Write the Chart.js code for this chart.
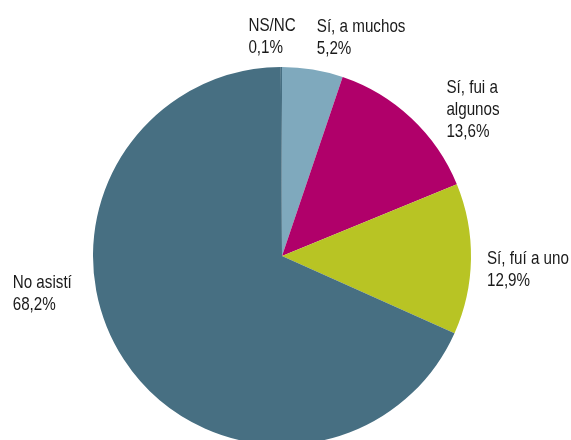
<!DOCTYPE html>
<html lang="es">
<head>
    <meta charset="UTF-8">
    <title>Asistencia</title>
    <style>
        html, body { margin: 0; padding: 0; background: #fff; overflow: hidden; }
        .CardStyle { width: 571px; height: 440px; overflow: hidden; position: relative; }
    </style>
</head>
<body>
    <div class="CardStyle">
        <canvas id="myChart" width="571" height="470"></canvas>
    </div>

    <script src="https://cdn.jsdelivr.net/npm/chart.js"></script>
    <script>
    // data
    const categorias = [['Sí, a muchos'], ['Sí, fui a', 'algunos'], ['Sí, fuí a uno'], ['No asistí'], ['NS/NC']];
    const porcentajes = [5.2, 13.6, 12.9, 68.2, 0.1];
    const colores = ['#7fa9bd', '#b0006a', '#b8c424', '#476f82', '#476f82'];

    // where each label sits relative to the outer edge of its slice
    const desplazamientos = [[4, -38], [35, -25], [16, 5], [-111, -71], [-33, -36]];

    const etiquetas = {
        id: 'etiquetas',
        afterDraw(chart) {
            const c = chart.ctx;
            const meta = chart.getDatasetMeta(0);
            meta.data.forEach((arc, i) => {
                const mid = (arc.startAngle + arc.endAngle) / 2;
                const px = arc.x + arc.outerRadius * Math.cos(mid) + desplazamientos[i][0];
                const py = arc.y + arc.outerRadius * Math.sin(mid) + desplazamientos[i][1];
                const lineas = categorias[i].concat([porcentajes[i].toFixed(1).replace('.', ',') + '%']);
                c.save();
                // narrow look like the original condensed face
                c.translate(px, py);
                c.scale(0.8, 1);
                c.font = '19px "Liberation Sans", Arial, sans-serif';
                c.fillStyle = '#1a1a1a';
                c.textAlign = 'left';
                c.textBaseline = 'alphabetic';
                lineas.forEach((t, k) => c.fillText(t, 0, k * 22));
                c.restore();
            });
        }
    };

    const ctx = document.getElementById('myChart');
    const myChart = new Chart(ctx, {
        type: 'pie',
        data: {
            labels: categorias.map(l => l.join(' ')),
            datasets: [{
                data: porcentajes,
                backgroundColor: colores,
                borderWidth: 0
            }]
        },
        options: {
            responsive: false,
            animation: false,
            layout: { padding: { top: 67, bottom: 25, left: 93, right: 100 } },
            plugins: {
                legend: { display: false },
                tooltip: { enabled: false }
            }
        },
        plugins: [etiquetas]
    });
    </script>
</body>
</html>
